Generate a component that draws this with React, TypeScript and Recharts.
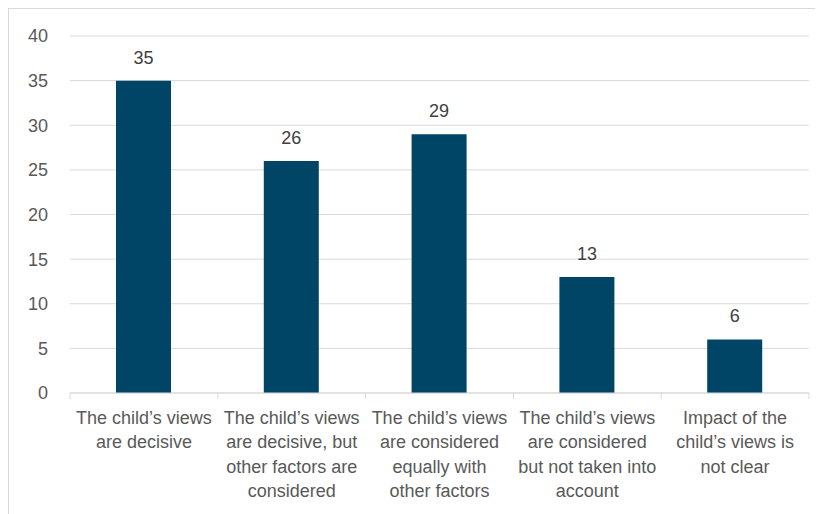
import React from "react";
import { BarChart, Bar, XAxis, YAxis, CartesianGrid, LabelList } from "recharts";

const categories = [
  "The child’s views\nare decisive",
  "The child’s views\nare decisive, but\nother factors are\nconsidered",
  "The child’s views\nare considered\nequally with\nother factors",
  "The child’s views\nare considered\nbut not taken into\naccount",
  "Impact of the\nchild’s views is\nnot clear",
];
const values = [35, 26, 29, 13, 6];
const yTicks = [0, 5, 10, 15, 20, 25, 30, 35, 40];

const data = categories.map((c, i) => ({ name: c, value: values[i] }));

const W = 814;
const H = 504;
const M = { top: 27, right: 14, left: 0, bottom: 10 };
const Y_W = 61;
const BAND = (W - M.left - M.right - Y_W) / categories.length;
const FONT = "'Liberation Sans', Arial, sans-serif";

const XTick = (props: any) => {
  const { x, y, payload, index } = props;
  const lines = String(payload.value).split("\n");
  const left = x - BAND / 2;
  const right = x + BAND / 2;
  return (
    <g>
      <line x1={left} x2={left} y1={y} y2={y + 6} stroke="#d9d9d9" strokeWidth={1} />
      {index === categories.length - 1 && (
        <line x1={right} x2={right} y1={y} y2={y + 6} stroke="#d9d9d9" strokeWidth={1} />
      )}
      <text
        x={x}
        y={y + 31}
        textAnchor="middle"
        fill="#595959"
        fontSize={18}
        fontFamily={FONT}
      >
        {lines.map((l, i) => (
          <tspan key={i} x={x} dy={i === 0 ? 0 : 24.3}>
            {l}
          </tspan>
        ))}
      </text>
    </g>
  );
};

export default function App() {
  return (
    <div
      style={{
        width: 815,
        height: 506,
        borderTop: "1px solid #d9d9d9",
        borderLeft: "1px solid #d9d9d9",
        background: "#fff",
      }}
    >
      <BarChart width={W} height={H} data={data} margin={M}>
        <CartesianGrid vertical={false} stroke="#d9d9d9" strokeWidth={1} />
        <XAxis
          dataKey="name"
          interval={0}
          tickLine={false}
          tickSize={0}
          tickMargin={0}
          axisLine={{ stroke: "#d9d9d9", strokeWidth: 1 }}
          tick={<XTick />}
          height={110}
        />
        <YAxis
          domain={[0, 40]}
          ticks={yTicks}
          width={Y_W}
          axisLine={false}
          tickLine={false}
          tickSize={0}
          tickMargin={22}
          tick={{ fill: "#595959", fontSize: 18, fontFamily: FONT }}
        />
        <Bar dataKey="value" fill="#004565" barSize={55} isAnimationActive={false}>
          <LabelList
            dataKey="value"
            position="top"
            offset={17}
            fill="#404040"
            fontSize={18}
            fontFamily={FONT}
          />
        </Bar>
      </BarChart>
    </div>
  );
}
